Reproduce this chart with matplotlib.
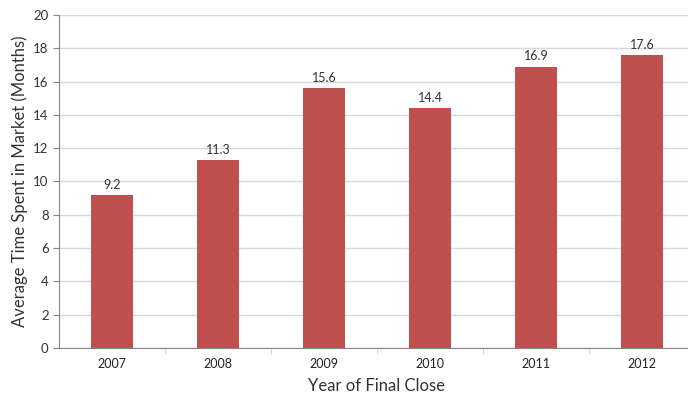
import numpy as np
import matplotlib
matplotlib.use('Agg')
import matplotlib.pyplot as plt

# data
years = ['2007', '2008', '2009', '2010', '2011', '2012']
months = [9.2, 11.3, 15.6, 14.4, 16.9, 17.6]

plt.rcParams['font.family'] = ['Lato', 'DejaVu Sans']

fig = plt.figure(figsize=(6.88, 3.94), dpi=100)
# plot area runs a little past the right edge, as in the original
ax = fig.add_axes([59 / 688, (394 - 348) / 394, 636 / 688, 333 / 394])

x = np.arange(len(years))
ax.bar(x, months, width=0.4, color='#C0504D', zorder=3)
for xi, v in zip(x, months):
    ax.text(xi, v + 0.25, f'{v:.1f}', ha='center', va='bottom', fontsize=9, color='#333333')

ax.set_xlim(-0.5, len(years) - 0.5)
ax.set_ylim(0, 20)
ax.set_yticks(range(0, 21, 2))
ax.set_xticks(x)
ax.set_xticklabels(years)
ax.set_xticks(np.arange(0.5, len(years) - 0.5), minor=True)
ax.tick_params(axis='x', which='major', length=0, pad=7, labelsize=9, labelcolor='#222222')
ax.tick_params(axis='x', which='minor', length=4, color='#D0D0D0')
ax.tick_params(axis='y', length=4, color='#868686', labelsize=9.5, labelcolor='#333333')

ax.grid(axis='y', color='#D9D9D9', linewidth=1, zorder=0)
for s in ['top', 'right']:
    ax.spines[s].set_visible(False)
ax.spines['left'].set_color('#868686')
ax.spines['bottom'].set_color('#868686')

ax.set_xlabel('Year of Final Close', fontsize=12, color='#333333', labelpad=6)
ax.set_ylabel('Average Time Spent in Market (Months)', fontsize=12, color='#333333', labelpad=4)

fig.savefig('out.png', dpi=100)
